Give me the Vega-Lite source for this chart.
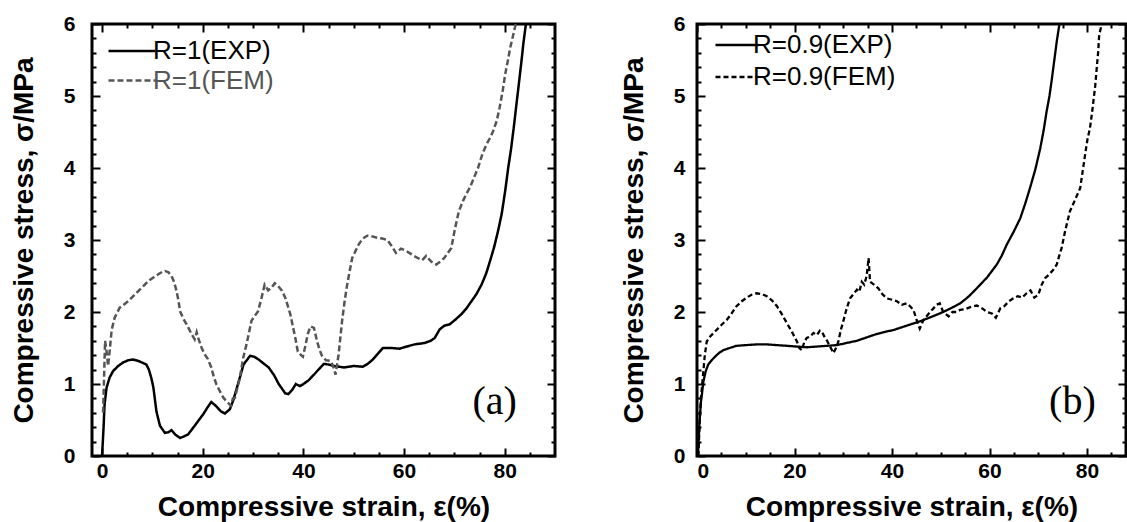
{
  "$schema": "https://vega.github.io/schema/vega-lite/v6.json",
  "padding": {"left": 8, "top": 0, "right": 0, "bottom": 0},
  "background": "white",
  "bounds": "flush",
  "spacing": 142,
  "config": {
    "view": {"stroke": "black", "strokeWidth": 3},
    "font": "Liberation Sans",
    "axis": {
      "domain": false, "grid": false, "tickColor": "black", "tickWidth": 2,
      "labelFont": "Liberation Sans", "labelFontWeight": "bold", "labelFontSize": 21, "labelColor": "black",
      "titleFont": "Liberation Sans", "titleFontWeight": "bold", "titleFontSize": 28, "titleColor": "black"
    }
  },
  "data": {"values": [
    {"p":"a","series":"R=1(EXP)","strain":0,"stress":0},{"p":"a","series":"R=1(EXP)","strain":0.3,"stress":0.4},{"p":"a","series":"R=1(EXP)","strain":0.5,"stress":0.72},{"p":"a","series":"R=1(EXP)","strain":0.9,"stress":0.95},{"p":"a","series":"R=1(EXP)","strain":1.5,"stress":1.09},{"p":"a","series":"R=1(EXP)","strain":2.2,"stress":1.18},{"p":"a","series":"R=1(EXP)","strain":3.2,"stress":1.25},{"p":"a","series":"R=1(EXP)","strain":4.2,"stress":1.3},{"p":"a","series":"R=1(EXP)","strain":5.2,"stress":1.33},{"p":"a","series":"R=1(EXP)","strain":6.2,"stress":1.34},{"p":"a","series":"R=1(EXP)","strain":7.2,"stress":1.32},{"p":"a","series":"R=1(EXP)","strain":8.2,"stress":1.29},{"p":"a","series":"R=1(EXP)","strain":8.8,"stress":1.27},{"p":"a","series":"R=1(EXP)","strain":9.3,"stress":1.2},{"p":"a","series":"R=1(EXP)","strain":9.8,"stress":1.08},{"p":"a","series":"R=1(EXP)","strain":10.2,"stress":0.95},{"p":"a","series":"R=1(EXP)","strain":10.8,"stress":0.62},{"p":"a","series":"R=1(EXP)","strain":11.5,"stress":0.42},{"p":"a","series":"R=1(EXP)","strain":12.5,"stress":0.32},{"p":"a","series":"R=1(EXP)","strain":13.2,"stress":0.33},{"p":"a","series":"R=1(EXP)","strain":13.8,"stress":0.36},{"p":"a","series":"R=1(EXP)","strain":14.5,"stress":0.3},{"p":"a","series":"R=1(EXP)","strain":15.5,"stress":0.25},{"p":"a","series":"R=1(EXP)","strain":16.2,"stress":0.27},{"p":"a","series":"R=1(EXP)","strain":17.1,"stress":0.3},{"p":"a","series":"R=1(EXP)","strain":18.4,"stress":0.42},{"p":"a","series":"R=1(EXP)","strain":20.1,"stress":0.58},{"p":"a","series":"R=1(EXP)","strain":21,"stress":0.68},{"p":"a","series":"R=1(EXP)","strain":21.7,"stress":0.75},{"p":"a","series":"R=1(EXP)","strain":22.7,"stress":0.69},{"p":"a","series":"R=1(EXP)","strain":23.6,"stress":0.62},{"p":"a","series":"R=1(EXP)","strain":24.4,"stress":0.59},{"p":"a","series":"R=1(EXP)","strain":25.4,"stress":0.65},{"p":"a","series":"R=1(EXP)","strain":26.1,"stress":0.78},{"p":"a","series":"R=1(EXP)","strain":26.8,"stress":0.95},{"p":"a","series":"R=1(EXP)","strain":27.5,"stress":1.12},{"p":"a","series":"R=1(EXP)","strain":28.1,"stress":1.27},{"p":"a","series":"R=1(EXP)","strain":29.4,"stress":1.39},{"p":"a","series":"R=1(EXP)","strain":30.2,"stress":1.38},{"p":"a","series":"R=1(EXP)","strain":31.1,"stress":1.34},{"p":"a","series":"R=1(EXP)","strain":33.1,"stress":1.23},{"p":"a","series":"R=1(EXP)","strain":34.2,"stress":1.12},{"p":"a","series":"R=1(EXP)","strain":35.1,"stress":1},{"p":"a","series":"R=1(EXP)","strain":36.4,"stress":0.87},{"p":"a","series":"R=1(EXP)","strain":37,"stress":0.86},{"p":"a","series":"R=1(EXP)","strain":37.8,"stress":0.92},{"p":"a","series":"R=1(EXP)","strain":38.5,"stress":1},{"p":"a","series":"R=1(EXP)","strain":39.3,"stress":0.97},{"p":"a","series":"R=1(EXP)","strain":40,"stress":1},{"p":"a","series":"R=1(EXP)","strain":41,"stress":1.05},{"p":"a","series":"R=1(EXP)","strain":42.1,"stress":1.13},{"p":"a","series":"R=1(EXP)","strain":43,"stress":1.2},{"p":"a","series":"R=1(EXP)","strain":44.1,"stress":1.28},{"p":"a","series":"R=1(EXP)","strain":45,"stress":1.27},{"p":"a","series":"R=1(EXP)","strain":46.1,"stress":1.25},{"p":"a","series":"R=1(EXP)","strain":48.1,"stress":1.23},{"p":"a","series":"R=1(EXP)","strain":50,"stress":1.25},{"p":"a","series":"R=1(EXP)","strain":51.8,"stress":1.24},{"p":"a","series":"R=1(EXP)","strain":52.8,"stress":1.28},{"p":"a","series":"R=1(EXP)","strain":53.8,"stress":1.34},{"p":"a","series":"R=1(EXP)","strain":54.8,"stress":1.42},{"p":"a","series":"R=1(EXP)","strain":55.8,"stress":1.5},{"p":"a","series":"R=1(EXP)","strain":57.5,"stress":1.5},{"p":"a","series":"R=1(EXP)","strain":59.1,"stress":1.49},{"p":"a","series":"R=1(EXP)","strain":60.5,"stress":1.52},{"p":"a","series":"R=1(EXP)","strain":62.1,"stress":1.55},{"p":"a","series":"R=1(EXP)","strain":64.1,"stress":1.57},{"p":"a","series":"R=1(EXP)","strain":65.3,"stress":1.6},{"p":"a","series":"R=1(EXP)","strain":66.1,"stress":1.64},{"p":"a","series":"R=1(EXP)","strain":66.6,"stress":1.7},{"p":"a","series":"R=1(EXP)","strain":67.1,"stress":1.76},{"p":"a","series":"R=1(EXP)","strain":68,"stress":1.81},{"p":"a","series":"R=1(EXP)","strain":69.1,"stress":1.83},{"p":"a","series":"R=1(EXP)","strain":70.3,"stress":1.9},{"p":"a","series":"R=1(EXP)","strain":71.4,"stress":1.97},{"p":"a","series":"R=1(EXP)","strain":72.4,"stress":2.05},{"p":"a","series":"R=1(EXP)","strain":73.4,"stress":2.15},{"p":"a","series":"R=1(EXP)","strain":74.4,"stress":2.25},{"p":"a","series":"R=1(EXP)","strain":75.4,"stress":2.38},{"p":"a","series":"R=1(EXP)","strain":76.3,"stress":2.53},{"p":"a","series":"R=1(EXP)","strain":77.1,"stress":2.71},{"p":"a","series":"R=1(EXP)","strain":77.9,"stress":2.9},{"p":"a","series":"R=1(EXP)","strain":78.7,"stress":3.13},{"p":"a","series":"R=1(EXP)","strain":79.4,"stress":3.36},{"p":"a","series":"R=1(EXP)","strain":80.1,"stress":3.68},{"p":"a","series":"R=1(EXP)","strain":80.7,"stress":4},{"p":"a","series":"R=1(EXP)","strain":81.3,"stress":4.28},{"p":"a","series":"R=1(EXP)","strain":81.8,"stress":4.56},{"p":"a","series":"R=1(EXP)","strain":82.3,"stress":4.86},{"p":"a","series":"R=1(EXP)","strain":82.8,"stress":5.16},{"p":"a","series":"R=1(EXP)","strain":83.3,"stress":5.46},{"p":"a","series":"R=1(EXP)","strain":83.7,"stress":5.72},{"p":"a","series":"R=1(EXP)","strain":84.2,"stress":5.99},{"p":"a","series":"R=1(EXP)","strain":84.6,"stress":6.3},
    {"p":"a","series":"R=1(FEM)","strain":0.2,"stress":0.6},{"p":"a","series":"R=1(FEM)","strain":0.4,"stress":1.1},{"p":"a","series":"R=1(FEM)","strain":0.6,"stress":1.6},{"p":"a","series":"R=1(FEM)","strain":0.9,"stress":1.45},{"p":"a","series":"R=1(FEM)","strain":1.2,"stress":1.25},{"p":"a","series":"R=1(FEM)","strain":1.5,"stress":1.45},{"p":"a","series":"R=1(FEM)","strain":1.9,"stress":1.75},{"p":"a","series":"R=1(FEM)","strain":2.5,"stress":1.92},{"p":"a","series":"R=1(FEM)","strain":3.5,"stress":2.06},{"p":"a","series":"R=1(FEM)","strain":4.3,"stress":2.1},{"p":"a","series":"R=1(FEM)","strain":5.2,"stress":2.15},{"p":"a","series":"R=1(FEM)","strain":6.2,"stress":2.22},{"p":"a","series":"R=1(FEM)","strain":7.2,"stress":2.29},{"p":"a","series":"R=1(FEM)","strain":8.2,"stress":2.36},{"p":"a","series":"R=1(FEM)","strain":9.2,"stress":2.43},{"p":"a","series":"R=1(FEM)","strain":10.2,"stress":2.48},{"p":"a","series":"R=1(FEM)","strain":11.1,"stress":2.52},{"p":"a","series":"R=1(FEM)","strain":12,"stress":2.56},{"p":"a","series":"R=1(FEM)","strain":12.5,"stress":2.57},{"p":"a","series":"R=1(FEM)","strain":13.2,"stress":2.55},{"p":"a","series":"R=1(FEM)","strain":13.8,"stress":2.5},{"p":"a","series":"R=1(FEM)","strain":14.3,"stress":2.42},{"p":"a","series":"R=1(FEM)","strain":14.8,"stress":2.29},{"p":"a","series":"R=1(FEM)","strain":15.2,"stress":2.15},{"p":"a","series":"R=1(FEM)","strain":15.5,"stress":2.01},{"p":"a","series":"R=1(FEM)","strain":16.2,"stress":1.9},{"p":"a","series":"R=1(FEM)","strain":16.8,"stress":1.83},{"p":"a","series":"R=1(FEM)","strain":17.8,"stress":1.69},{"p":"a","series":"R=1(FEM)","strain":18.4,"stress":1.62},{"p":"a","series":"R=1(FEM)","strain":18.8,"stress":1.72},{"p":"a","series":"R=1(FEM)","strain":19.1,"stress":1.64},{"p":"a","series":"R=1(FEM)","strain":19.8,"stress":1.5},{"p":"a","series":"R=1(FEM)","strain":20.4,"stress":1.41},{"p":"a","series":"R=1(FEM)","strain":21,"stress":1.35},{"p":"a","series":"R=1(FEM)","strain":21.7,"stress":1.23},{"p":"a","series":"R=1(FEM)","strain":22.2,"stress":1.1},{"p":"a","series":"R=1(FEM)","strain":22.7,"stress":1},{"p":"a","series":"R=1(FEM)","strain":23.4,"stress":0.9},{"p":"a","series":"R=1(FEM)","strain":24.1,"stress":0.81},{"p":"a","series":"R=1(FEM)","strain":25,"stress":0.74},{"p":"a","series":"R=1(FEM)","strain":25.6,"stress":0.7},{"p":"a","series":"R=1(FEM)","strain":26,"stress":0.8},{"p":"a","series":"R=1(FEM)","strain":26.4,"stress":0.81},{"p":"a","series":"R=1(FEM)","strain":26.9,"stress":0.95},{"p":"a","series":"R=1(FEM)","strain":27.4,"stress":1.09},{"p":"a","series":"R=1(FEM)","strain":28,"stress":1.35},{"p":"a","series":"R=1(FEM)","strain":28.7,"stress":1.55},{"p":"a","series":"R=1(FEM)","strain":29.7,"stress":1.88},{"p":"a","series":"R=1(FEM)","strain":30.4,"stress":1.95},{"p":"a","series":"R=1(FEM)","strain":31,"stress":2.01},{"p":"a","series":"R=1(FEM)","strain":31.7,"stress":2.2},{"p":"a","series":"R=1(FEM)","strain":32.3,"stress":2.38},{"p":"a","series":"R=1(FEM)","strain":33,"stress":2.3},{"p":"a","series":"R=1(FEM)","strain":33.7,"stress":2.34},{"p":"a","series":"R=1(FEM)","strain":34.3,"stress":2.4},{"p":"a","series":"R=1(FEM)","strain":35,"stress":2.36},{"p":"a","series":"R=1(FEM)","strain":35.7,"stress":2.3},{"p":"a","series":"R=1(FEM)","strain":36.4,"stress":2.2},{"p":"a","series":"R=1(FEM)","strain":37.4,"stress":1.97},{"p":"a","series":"R=1(FEM)","strain":38.4,"stress":1.64},{"p":"a","series":"R=1(FEM)","strain":38.9,"stress":1.45},{"p":"a","series":"R=1(FEM)","strain":39.4,"stress":1.41},{"p":"a","series":"R=1(FEM)","strain":39.9,"stress":1.38},{"p":"a","series":"R=1(FEM)","strain":40.4,"stress":1.53},{"p":"a","series":"R=1(FEM)","strain":40.9,"stress":1.7},{"p":"a","series":"R=1(FEM)","strain":41.4,"stress":1.8},{"p":"a","series":"R=1(FEM)","strain":42.1,"stress":1.78},{"p":"a","series":"R=1(FEM)","strain":42.7,"stress":1.6},{"p":"a","series":"R=1(FEM)","strain":43.2,"stress":1.48},{"p":"a","series":"R=1(FEM)","strain":43.7,"stress":1.39},{"p":"a","series":"R=1(FEM)","strain":44.5,"stress":1.33},{"p":"a","series":"R=1(FEM)","strain":45.4,"stress":1.32},{"p":"a","series":"R=1(FEM)","strain":45.9,"stress":1.25},{"p":"a","series":"R=1(FEM)","strain":46.4,"stress":1.13},{"p":"a","series":"R=1(FEM)","strain":47,"stress":1.41},{"p":"a","series":"R=1(FEM)","strain":47.7,"stress":1.88},{"p":"a","series":"R=1(FEM)","strain":48.2,"stress":2.15},{"p":"a","series":"R=1(FEM)","strain":48.7,"stress":2.38},{"p":"a","series":"R=1(FEM)","strain":49.7,"stress":2.75},{"p":"a","series":"R=1(FEM)","strain":51,"stress":2.94},{"p":"a","series":"R=1(FEM)","strain":51.8,"stress":3.02},{"p":"a","series":"R=1(FEM)","strain":52.7,"stress":3.06},{"p":"a","series":"R=1(FEM)","strain":53.7,"stress":3.05},{"p":"a","series":"R=1(FEM)","strain":54.7,"stress":3.03},{"p":"a","series":"R=1(FEM)","strain":55.7,"stress":3.02},{"p":"a","series":"R=1(FEM)","strain":56.7,"stress":3},{"p":"a","series":"R=1(FEM)","strain":57.5,"stress":2.92},{"p":"a","series":"R=1(FEM)","strain":58.4,"stress":2.82},{"p":"a","series":"R=1(FEM)","strain":59.4,"stress":2.88},{"p":"a","series":"R=1(FEM)","strain":60.4,"stress":2.85},{"p":"a","series":"R=1(FEM)","strain":61.5,"stress":2.8},{"p":"a","series":"R=1(FEM)","strain":62.7,"stress":2.75},{"p":"a","series":"R=1(FEM)","strain":63.6,"stress":2.72},{"p":"a","series":"R=1(FEM)","strain":64.4,"stress":2.78},{"p":"a","series":"R=1(FEM)","strain":65.4,"stress":2.7},{"p":"a","series":"R=1(FEM)","strain":66.4,"stress":2.66},{"p":"a","series":"R=1(FEM)","strain":67.2,"stress":2.7},{"p":"a","series":"R=1(FEM)","strain":68,"stress":2.75},{"p":"a","series":"R=1(FEM)","strain":68.7,"stress":2.82},{"p":"a","series":"R=1(FEM)","strain":69.4,"stress":2.89},{"p":"a","series":"R=1(FEM)","strain":70.1,"stress":3.15},{"p":"a","series":"R=1(FEM)","strain":70.9,"stress":3.4},{"p":"a","series":"R=1(FEM)","strain":71.7,"stress":3.54},{"p":"a","series":"R=1(FEM)","strain":72.4,"stress":3.64},{"p":"a","series":"R=1(FEM)","strain":73.1,"stress":3.73},{"p":"a","series":"R=1(FEM)","strain":74.7,"stress":4},{"p":"a","series":"R=1(FEM)","strain":75.6,"stress":4.2},{"p":"a","series":"R=1(FEM)","strain":76.4,"stress":4.33},{"p":"a","series":"R=1(FEM)","strain":77.1,"stress":4.42},{"p":"a","series":"R=1(FEM)","strain":77.7,"stress":4.51},{"p":"a","series":"R=1(FEM)","strain":78.4,"stress":4.65},{"p":"a","series":"R=1(FEM)","strain":79,"stress":4.84},{"p":"a","series":"R=1(FEM)","strain":79.6,"stress":5.07},{"p":"a","series":"R=1(FEM)","strain":80.1,"stress":5.3},{"p":"a","series":"R=1(FEM)","strain":80.6,"stress":5.48},{"p":"a","series":"R=1(FEM)","strain":81.1,"stress":5.67},{"p":"a","series":"R=1(FEM)","strain":81.6,"stress":5.82},{"p":"a","series":"R=1(FEM)","strain":82.1,"stress":5.97},{"p":"a","series":"R=1(FEM)","strain":82.6,"stress":6.3},
    {"p":"b","series":"R=0.9(EXP)","strain":0.2,"stress":0},{"p":"b","series":"R=0.9(EXP)","strain":0.5,"stress":0.45},{"p":"b","series":"R=0.9(EXP)","strain":0.8,"stress":0.75},{"p":"b","series":"R=0.9(EXP)","strain":1,"stress":0.85},{"p":"b","series":"R=0.9(EXP)","strain":1.3,"stress":1.03},{"p":"b","series":"R=0.9(EXP)","strain":1.8,"stress":1.18},{"p":"b","series":"R=0.9(EXP)","strain":2.3,"stress":1.27},{"p":"b","series":"R=0.9(EXP)","strain":3,"stress":1.33},{"p":"b","series":"R=0.9(EXP)","strain":3.7,"stress":1.38},{"p":"b","series":"R=0.9(EXP)","strain":4.5,"stress":1.43},{"p":"b","series":"R=0.9(EXP)","strain":5.4,"stress":1.47},{"p":"b","series":"R=0.9(EXP)","strain":6.7,"stress":1.5},{"p":"b","series":"R=0.9(EXP)","strain":8.1,"stress":1.53},{"p":"b","series":"R=0.9(EXP)","strain":10,"stress":1.54},{"p":"b","series":"R=0.9(EXP)","strain":12.2,"stress":1.55},{"p":"b","series":"R=0.9(EXP)","strain":14.3,"stress":1.55},{"p":"b","series":"R=0.9(EXP)","strain":16.4,"stress":1.54},{"p":"b","series":"R=0.9(EXP)","strain":18.5,"stress":1.53},{"p":"b","series":"R=0.9(EXP)","strain":20.5,"stress":1.52},{"p":"b","series":"R=0.9(EXP)","strain":22.5,"stress":1.51},{"p":"b","series":"R=0.9(EXP)","strain":24.6,"stress":1.52},{"p":"b","series":"R=0.9(EXP)","strain":26.6,"stress":1.53},{"p":"b","series":"R=0.9(EXP)","strain":28.7,"stress":1.54},{"p":"b","series":"R=0.9(EXP)","strain":30.7,"stress":1.57},{"p":"b","series":"R=0.9(EXP)","strain":32.8,"stress":1.6},{"p":"b","series":"R=0.9(EXP)","strain":34.5,"stress":1.64},{"p":"b","series":"R=0.9(EXP)","strain":36.2,"stress":1.68},{"p":"b","series":"R=0.9(EXP)","strain":38.3,"stress":1.72},{"p":"b","series":"R=0.9(EXP)","strain":40.3,"stress":1.75},{"p":"b","series":"R=0.9(EXP)","strain":43,"stress":1.81},{"p":"b","series":"R=0.9(EXP)","strain":45.7,"stress":1.87},{"p":"b","series":"R=0.9(EXP)","strain":48,"stress":1.93},{"p":"b","series":"R=0.9(EXP)","strain":50.5,"stress":2},{"p":"b","series":"R=0.9(EXP)","strain":52.3,"stress":2.06},{"p":"b","series":"R=0.9(EXP)","strain":54,"stress":2.12},{"p":"b","series":"R=0.9(EXP)","strain":55.8,"stress":2.22},{"p":"b","series":"R=0.9(EXP)","strain":57.4,"stress":2.33},{"p":"b","series":"R=0.9(EXP)","strain":59.5,"stress":2.48},{"p":"b","series":"R=0.9(EXP)","strain":61.5,"stress":2.66},{"p":"b","series":"R=0.9(EXP)","strain":62.5,"stress":2.78},{"p":"b","series":"R=0.9(EXP)","strain":63.5,"stress":2.93},{"p":"b","series":"R=0.9(EXP)","strain":65,"stress":3.12},{"p":"b","series":"R=0.9(EXP)","strain":66.3,"stress":3.3},{"p":"b","series":"R=0.9(EXP)","strain":67.3,"stress":3.5},{"p":"b","series":"R=0.9(EXP)","strain":68.3,"stress":3.72},{"p":"b","series":"R=0.9(EXP)","strain":69.4,"stress":3.98},{"p":"b","series":"R=0.9(EXP)","strain":70.4,"stress":4.27},{"p":"b","series":"R=0.9(EXP)","strain":71.1,"stress":4.52},{"p":"b","series":"R=0.9(EXP)","strain":71.7,"stress":4.78},{"p":"b","series":"R=0.9(EXP)","strain":72.3,"stress":5},{"p":"b","series":"R=0.9(EXP)","strain":72.8,"stress":5.24},{"p":"b","series":"R=0.9(EXP)","strain":73.3,"stress":5.5},{"p":"b","series":"R=0.9(EXP)","strain":73.8,"stress":5.76},{"p":"b","series":"R=0.9(EXP)","strain":74.3,"stress":5.98},{"p":"b","series":"R=0.9(EXP)","strain":74.6,"stress":6.3},
    {"p":"b","series":"R=0.9(FEM)","strain":0.3,"stress":0},{"p":"b","series":"R=0.9(FEM)","strain":0.5,"stress":0.4},{"p":"b","series":"R=0.9(FEM)","strain":0.8,"stress":0.8},{"p":"b","series":"R=0.9(FEM)","strain":1.3,"stress":1.17},{"p":"b","series":"R=0.9(FEM)","strain":1.6,"stress":1.4},{"p":"b","series":"R=0.9(FEM)","strain":2,"stress":1.59},{"p":"b","series":"R=0.9(FEM)","strain":2.7,"stress":1.66},{"p":"b","series":"R=0.9(FEM)","strain":4,"stress":1.75},{"p":"b","series":"R=0.9(FEM)","strain":5,"stress":1.82},{"p":"b","series":"R=0.9(FEM)","strain":6.1,"stress":1.89},{"p":"b","series":"R=0.9(FEM)","strain":7.1,"stress":1.98},{"p":"b","series":"R=0.9(FEM)","strain":8.1,"stress":2.08},{"p":"b","series":"R=0.9(FEM)","strain":9.2,"stress":2.15},{"p":"b","series":"R=0.9(FEM)","strain":10.2,"stress":2.2},{"p":"b","series":"R=0.9(FEM)","strain":11.2,"stress":2.24},{"p":"b","series":"R=0.9(FEM)","strain":12.2,"stress":2.26},{"p":"b","series":"R=0.9(FEM)","strain":13.3,"stress":2.25},{"p":"b","series":"R=0.9(FEM)","strain":14.3,"stress":2.22},{"p":"b","series":"R=0.9(FEM)","strain":15.4,"stress":2.16},{"p":"b","series":"R=0.9(FEM)","strain":16.4,"stress":2.08},{"p":"b","series":"R=0.9(FEM)","strain":17.4,"stress":1.97},{"p":"b","series":"R=0.9(FEM)","strain":18.4,"stress":1.85},{"p":"b","series":"R=0.9(FEM)","strain":19.5,"stress":1.72},{"p":"b","series":"R=0.9(FEM)","strain":20.5,"stress":1.59},{"p":"b","series":"R=0.9(FEM)","strain":21,"stress":1.5},{"p":"b","series":"R=0.9(FEM)","strain":21.5,"stress":1.47},{"p":"b","series":"R=0.9(FEM)","strain":22,"stress":1.58},{"p":"b","series":"R=0.9(FEM)","strain":22.5,"stress":1.64},{"p":"b","series":"R=0.9(FEM)","strain":23.2,"stress":1.66},{"p":"b","series":"R=0.9(FEM)","strain":23.9,"stress":1.71},{"p":"b","series":"R=0.9(FEM)","strain":24.6,"stress":1.68},{"p":"b","series":"R=0.9(FEM)","strain":25.2,"stress":1.74},{"p":"b","series":"R=0.9(FEM)","strain":25.6,"stress":1.73},{"p":"b","series":"R=0.9(FEM)","strain":26.1,"stress":1.66},{"p":"b","series":"R=0.9(FEM)","strain":26.6,"stress":1.61},{"p":"b","series":"R=0.9(FEM)","strain":27.3,"stress":1.52},{"p":"b","series":"R=0.9(FEM)","strain":28,"stress":1.43},{"p":"b","series":"R=0.9(FEM)","strain":28.5,"stress":1.5},{"p":"b","series":"R=0.9(FEM)","strain":29,"stress":1.59},{"p":"b","series":"R=0.9(FEM)","strain":29.5,"stress":1.75},{"p":"b","series":"R=0.9(FEM)","strain":30,"stress":1.87},{"p":"b","series":"R=0.9(FEM)","strain":30.7,"stress":2.05},{"p":"b","series":"R=0.9(FEM)","strain":31.4,"stress":2.19},{"p":"b","series":"R=0.9(FEM)","strain":32.1,"stress":2.25},{"p":"b","series":"R=0.9(FEM)","strain":32.8,"stress":2.31},{"p":"b","series":"R=0.9(FEM)","strain":33.3,"stress":2.28},{"p":"b","series":"R=0.9(FEM)","strain":33.8,"stress":2.42},{"p":"b","series":"R=0.9(FEM)","strain":34.3,"stress":2.38},{"p":"b","series":"R=0.9(FEM)","strain":34.8,"stress":2.5},{"p":"b","series":"R=0.9(FEM)","strain":35.2,"stress":2.75},{"p":"b","series":"R=0.9(FEM)","strain":35.5,"stress":2.42},{"p":"b","series":"R=0.9(FEM)","strain":36.3,"stress":2.38},{"p":"b","series":"R=0.9(FEM)","strain":37.2,"stress":2.33},{"p":"b","series":"R=0.9(FEM)","strain":38,"stress":2.25},{"p":"b","series":"R=0.9(FEM)","strain":38.9,"stress":2.19},{"p":"b","series":"R=0.9(FEM)","strain":40,"stress":2.17},{"p":"b","series":"R=0.9(FEM)","strain":41,"stress":2.15},{"p":"b","series":"R=0.9(FEM)","strain":42,"stress":2.1},{"p":"b","series":"R=0.9(FEM)","strain":43,"stress":2.12},{"p":"b","series":"R=0.9(FEM)","strain":43.7,"stress":2.08},{"p":"b","series":"R=0.9(FEM)","strain":44.4,"stress":2.03},{"p":"b","series":"R=0.9(FEM)","strain":45,"stress":1.9},{"p":"b","series":"R=0.9(FEM)","strain":45.7,"stress":1.77},{"p":"b","series":"R=0.9(FEM)","strain":46.4,"stress":1.88},{"p":"b","series":"R=0.9(FEM)","strain":47.1,"stress":1.94},{"p":"b","series":"R=0.9(FEM)","strain":47.8,"stress":2},{"p":"b","series":"R=0.9(FEM)","strain":48.5,"stress":2.05},{"p":"b","series":"R=0.9(FEM)","strain":49.1,"stress":2.1},{"p":"b","series":"R=0.9(FEM)","strain":49.8,"stress":2.12},{"p":"b","series":"R=0.9(FEM)","strain":50.5,"stress":2},{"p":"b","series":"R=0.9(FEM)","strain":51.6,"stress":1.94},{"p":"b","series":"R=0.9(FEM)","strain":52.4,"stress":2},{"p":"b","series":"R=0.9(FEM)","strain":53.2,"stress":2},{"p":"b","series":"R=0.9(FEM)","strain":54,"stress":2.03},{"p":"b","series":"R=0.9(FEM)","strain":55,"stress":2.04},{"p":"b","series":"R=0.9(FEM)","strain":56.2,"stress":2.07},{"p":"b","series":"R=0.9(FEM)","strain":57.4,"stress":2.09},{"p":"b","series":"R=0.9(FEM)","strain":58.5,"stress":2.05},{"p":"b","series":"R=0.9(FEM)","strain":59.5,"stress":2},{"p":"b","series":"R=0.9(FEM)","strain":60.5,"stress":1.98},{"p":"b","series":"R=0.9(FEM)","strain":61.3,"stress":1.92},{"p":"b","series":"R=0.9(FEM)","strain":62.2,"stress":2.05},{"p":"b","series":"R=0.9(FEM)","strain":63,"stress":2.08},{"p":"b","series":"R=0.9(FEM)","strain":64,"stress":2.15},{"p":"b","series":"R=0.9(FEM)","strain":64.9,"stress":2.19},{"p":"b","series":"R=0.9(FEM)","strain":65.8,"stress":2.22},{"p":"b","series":"R=0.9(FEM)","strain":66.7,"stress":2.2},{"p":"b","series":"R=0.9(FEM)","strain":67.6,"stress":2.26},{"p":"b","series":"R=0.9(FEM)","strain":68.4,"stress":2.3},{"p":"b","series":"R=0.9(FEM)","strain":69.2,"stress":2.2},{"p":"b","series":"R=0.9(FEM)","strain":70,"stress":2.24},{"p":"b","series":"R=0.9(FEM)","strain":70.7,"stress":2.38},{"p":"b","series":"R=0.9(FEM)","strain":71.4,"stress":2.47},{"p":"b","series":"R=0.9(FEM)","strain":72.2,"stress":2.52},{"p":"b","series":"R=0.9(FEM)","strain":73,"stress":2.58},{"p":"b","series":"R=0.9(FEM)","strain":73.8,"stress":2.66},{"p":"b","series":"R=0.9(FEM)","strain":74.3,"stress":2.78},{"p":"b","series":"R=0.9(FEM)","strain":74.8,"stress":2.89},{"p":"b","series":"R=0.9(FEM)","strain":75.5,"stress":3.12},{"p":"b","series":"R=0.9(FEM)","strain":76.5,"stress":3.4},{"p":"b","series":"R=0.9(FEM)","strain":77.5,"stress":3.55},{"p":"b","series":"R=0.9(FEM)","strain":78.6,"stress":3.72},{"p":"b","series":"R=0.9(FEM)","strain":79.1,"stress":3.95},{"p":"b","series":"R=0.9(FEM)","strain":79.6,"stress":4.18},{"p":"b","series":"R=0.9(FEM)","strain":80.1,"stress":4.4},{"p":"b","series":"R=0.9(FEM)","strain":80.6,"stress":4.55},{"p":"b","series":"R=0.9(FEM)","strain":81,"stress":4.75},{"p":"b","series":"R=0.9(FEM)","strain":81.3,"stress":4.92},{"p":"b","series":"R=0.9(FEM)","strain":81.7,"stress":5.15},{"p":"b","series":"R=0.9(FEM)","strain":82,"stress":5.39},{"p":"b","series":"R=0.9(FEM)","strain":82.3,"stress":5.62},{"p":"b","series":"R=0.9(FEM)","strain":82.5,"stress":5.85},{"p":"b","series":"R=0.9(FEM)","strain":83,"stress":5.99},{"p":"b","series":"R=0.9(FEM)","strain":83.3,"stress":6.3}
  ]},
  "resolve": {
    "scale": {"x": "independent", "y": "independent", "color": "independent", "strokeDash": "independent"},
    "legend": {"color": "independent", "strokeDash": "independent"}
  },
  "hconcat": [
    {
      "width": 463, "height": 432,
      "transform": [{"filter": "datum.p === 'a'"}],
      "resolve": {"axis": {"x": "independent", "y": "independent"}},
      "layer": [
        {
          "mark": {"type": "line", "strokeWidth": 2.5, "clip": true},
          "encoding": {
            "x": {"field": "strain", "type": "quantitative", "scale": {"domain": [-2, 90], "nice": false, "zero": false},
              "axis": {"orient": "bottom", "values": [0,5,10,15,20,25,30,35,40,45,50,55,60,65,70,75,80,85],
                "labelExpr": "datum.value % 20 === 0 ? datum.label : ''",
                "tickSize": {"condition": {"test": "datum.value % 20 === 0", "value": -8}, "value": -4},
                "labelPadding": 12, "title": "Compressive strain, ε(%)", "titlePadding": 12}},
            "y": {"field": "stress", "type": "quantitative", "scale": {"domain": [0, 6], "nice": false},
              "axis": {"orient": "left", "values": [0,0.2,0.4,0.6,0.8,1,1.2,1.4,1.6,1.8,2,2.2,2.4,2.6,2.8,3,3.2,3.4,3.6,3.8,4,4.2,4.4,4.6,4.8,5,5.2,5.4,5.6,5.8,6],
                "labelExpr": "abs(datum.value - round(datum.value)) < 0.001 ? format(datum.value, 'd') : ''",
                "tickSize": {"condition": {"test": "abs(datum.value - round(datum.value)) < 0.001", "value": -8}, "value": -4},
                "labelPadding": 25, "title": "Compressive stress, σ/MPa", "titlePadding": 25}},
            "color": {"field": "series", "type": "nominal", "scale": {"domain": ["R=1(EXP)", "R=1(FEM)"], "range": ["#000000", "#555555"]},
              "legend": {"title": null, "orient": "none", "legendX": 10, "legendY": 14, "symbolType": "M-4.7,0H4.7", "symbolSize": 100, "symbolStrokeWidth": 2.5, "symbolOffset": 17, "labelOffset": 8, "labelFont": "Liberation Sans", "labelFontSize": 26, "labelColor": "black", "rowPadding": 3.5, "padding": 0,
                "encode": {"labels": {"update": {"fill": {"signal": "datum.label === 'R=1(FEM)' ? '#555555' : '#000000'"}}}}}},
            "strokeDash": {"field": "series", "type": "nominal", "scale": {"domain": ["R=1(EXP)", "R=1(FEM)"], "range": [[1, 0], [6, 3]]},
              "legend": {"title": null, "orient": "none", "legendX": 10, "legendY": 14, "symbolType": "M-4.7,0H4.7", "symbolSize": 100, "symbolStrokeWidth": 2.5, "symbolOffset": 17, "labelOffset": 8, "labelFont": "Liberation Sans", "labelFontSize": 26, "labelColor": "black", "rowPadding": 3.5, "padding": 0,
                "encode": {"labels": {"update": {"fill": {"signal": "datum.label === 'R=1(FEM)' ? '#555555' : '#000000'"}}}}}}
          }
        },
        {
          "mark": {"type": "line", "opacity": 0},
          "encoding": {
            "x": {"field": "strain", "type": "quantitative", "scale": {"domain": [-2, 90], "nice": false, "zero": false},
              "axis": {"orient": "top", "values": [0,5,10,15,20,25,30,35,40,45,50,55,60,65,70,75,80,85], "labels": false, "title": null,
                "tickSize": {"condition": {"test": "datum.value % 20 === 0", "value": -8}, "value": -4}}},
            "y": {"field": "stress", "type": "quantitative", "scale": {"domain": [0, 6], "nice": false},
              "axis": {"orient": "right", "values": [0,0.2,0.4,0.6,0.8,1,1.2,1.4,1.6,1.8,2,2.2,2.4,2.6,2.8,3,3.2,3.4,3.6,3.8,4,4.2,4.4,4.6,4.8,5,5.2,5.4,5.6,5.8,6], "labels": false, "title": null,
                "tickSize": {"condition": {"test": "abs(datum.value - round(datum.value)) < 0.001", "value": -8}, "value": -4}}}
          }
        },
        {
          "data": {"values": [{"tag": "(a)"}]},
          "mark": {"type": "text", "font": "Liberation Serif", "fontSize": 40, "align": "center", "baseline": "middle", "color": "black"},
          "encoding": {
            "x": {"datum": 78, "type": "quantitative", "axis": null},
            "y": {"datum": 0.75, "type": "quantitative", "axis": null},
            "text": {"field": "tag", "type": "nominal"}
          }
        }
      ]
    },
    {
      "width": 429, "height": 432,
      "transform": [{"filter": "datum.p === 'b'"}],
      "resolve": {"axis": {"x": "independent", "y": "independent"}},
      "layer": [
        {
          "mark": {"type": "line", "strokeWidth": 2.3, "clip": true},
          "encoding": {
            "x": {"field": "strain", "type": "quantitative", "scale": {"domain": [0, 88], "nice": false, "zero": false},
              "axis": {"orient": "bottom", "values": [0,5,10,15,20,25,30,35,40,45,50,55,60,65,70,75,80,85],
                "labelExpr": "datum.value % 20 === 0 ? datum.label : ''",
                "tickSize": {"condition": {"test": "datum.value % 20 === 0", "value": -8}, "value": -4},
                "labelPadding": 12, "title": "Compressive strain, ε(%)", "titlePadding": 12}},
            "y": {"field": "stress", "type": "quantitative", "scale": {"domain": [0, 6], "nice": false},
              "axis": {"orient": "left", "values": [0,0.2,0.4,0.6,0.8,1,1.2,1.4,1.6,1.8,2,2.2,2.4,2.6,2.8,3,3.2,3.4,3.6,3.8,4,4.2,4.4,4.6,4.8,5,5.2,5.4,5.6,5.8,6],
                "labelExpr": "abs(datum.value - round(datum.value)) < 0.001 ? format(datum.value, 'd') : ''",
                "tickSize": {"condition": {"test": "abs(datum.value - round(datum.value)) < 0.001", "value": -8}, "value": -4},
                "labelPadding": 20, "title": "Compressive stress, σ/MPa", "titlePadding": 25}},
            "color": {"field": "series", "type": "nominal", "scale": {"domain": ["R=0.9(EXP)", "R=0.9(FEM)"], "range": ["#000000", "#000000"]},
              "legend": {"title": null, "orient": "none", "legendX": 10, "legendY": 8, "symbolType": "M-4.3,0H4.3", "symbolSize": 100, "symbolStrokeWidth": 2.3, "symbolOffset": 17, "labelOffset": 3, "labelFont": "Liberation Sans", "labelFontSize": 26, "labelColor": "black", "rowPadding": 6, "padding": 0}},
            "strokeDash": {"field": "series", "type": "nominal", "scale": {"domain": ["R=0.9(EXP)", "R=0.9(FEM)"], "range": [[1, 0], [5, 3]]},
              "legend": {"title": null, "orient": "none", "legendX": 10, "legendY": 8, "symbolType": "M-4.3,0H4.3", "symbolSize": 100, "symbolStrokeWidth": 2.3, "symbolOffset": 17, "labelOffset": 3, "labelFont": "Liberation Sans", "labelFontSize": 26, "labelColor": "black", "rowPadding": 6, "padding": 0}}
          }
        },
        {
          "mark": {"type": "line", "opacity": 0},
          "encoding": {
            "x": {"field": "strain", "type": "quantitative", "scale": {"domain": [0, 88], "nice": false, "zero": false},
              "axis": {"orient": "top", "values": [0,5,10,15,20,25,30,35,40,45,50,55,60,65,70,75,80,85], "labels": false, "title": null,
                "tickSize": {"condition": {"test": "datum.value % 20 === 0", "value": -8}, "value": -4}}},
            "y": {"field": "stress", "type": "quantitative", "scale": {"domain": [0, 6], "nice": false},
              "axis": {"orient": "right", "values": [0,0.2,0.4,0.6,0.8,1,1.2,1.4,1.6,1.8,2,2.2,2.4,2.6,2.8,3,3.2,3.4,3.6,3.8,4,4.2,4.4,4.6,4.8,5,5.2,5.4,5.6,5.8,6], "labels": false, "title": null,
                "tickSize": {"condition": {"test": "abs(datum.value - round(datum.value)) < 0.001", "value": -8}, "value": -4}}}
          }
        },
        {
          "data": {"values": [{"tag": "(b)"}]},
          "mark": {"type": "text", "font": "Liberation Serif", "fontSize": 40, "align": "center", "baseline": "middle", "color": "black"},
          "encoding": {
            "x": {"datum": 77, "type": "quantitative", "axis": null},
            "y": {"datum": 0.75, "type": "quantitative", "axis": null},
            "text": {"field": "tag", "type": "nominal"}
          }
        }
      ]
    }
  ]
}
